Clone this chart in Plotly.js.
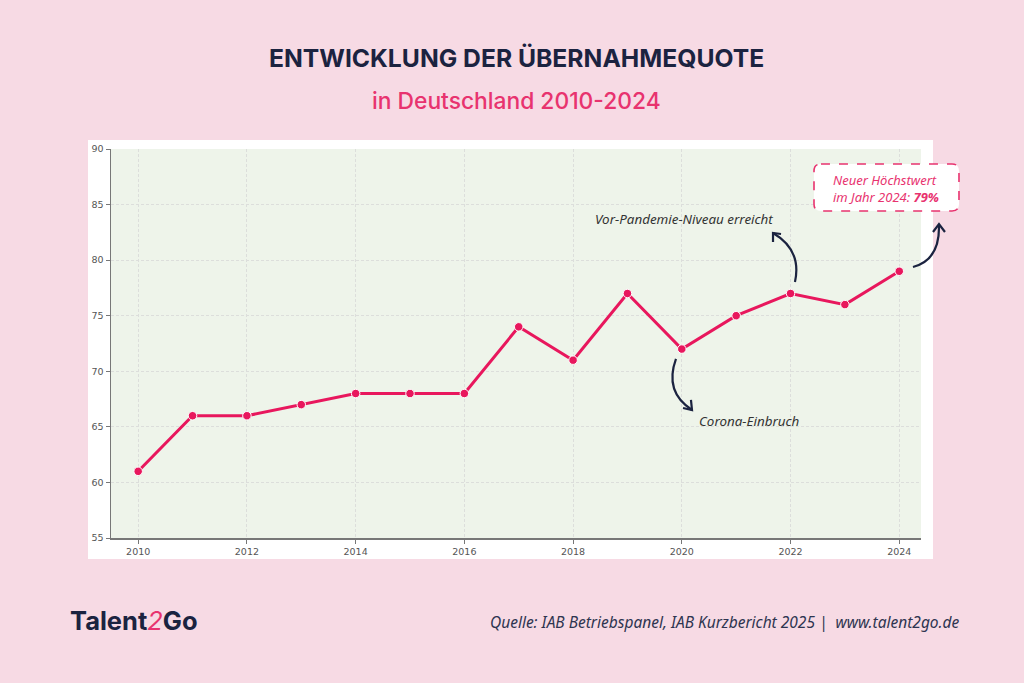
<!DOCTYPE html>
<html><head><meta charset="utf-8">
<script src="https://cdn.plot.ly/plotly-3.0.1.min.js"></script>
<style>html,body{margin:0;padding:0;background:#f7dae4;}#chart{width:1024px;height:683px;}</style>
</head><body><div id="chart"></div>
<script>
const years = [2010,2011,2012,2013,2014,2015,2016,2017,2018,2019,2020,2021,2022,2023,2024];
const quote = [61,66,66,67,68,68,68,74,71,77,72,75,77,76,79];
const xTicks = [2010,2012,2014,2016,2018,2020,2022,2024];
const yTicks = [55,60,65,70,75,80,85,90];

const L=111, R=921, T=149, B=538;
const px = x => (x-L)/(R-L);
const py = y => (B-y)/(B-T);
const navy = '#1b2340';
const pink = '#e8336f';
function P(x,y){ return px(x).toFixed(4)+','+py(y).toFixed(4); }

const shapes = [
  {type:'rect', xref:'paper', yref:'paper', x0:px(88), x1:px(933), y0:py(559), y1:py(140), fillcolor:'#ffffff', line:{width:0}, layer:'below'},
  {type:'rect', xref:'paper', yref:'paper', x0:0, x1:1, y0:0, y1:1, fillcolor:'#eef4ea', line:{width:0}, layer:'below'},
  // Corona arrow
  {type:'path', xref:'paper', yref:'paper', path:'M'+P(676,359)+' Q'+P(664,392)+' '+P(692,410), line:{color:navy,width:2.2}},
  {type:'path', xref:'paper', yref:'paper', path:'M'+P(683,408)+' L'+P(692,410)+' L'+P(691,400), line:{color:navy,width:2.2}},
  // Vor-Pandemie arrow
  {type:'path', xref:'paper', yref:'paper', path:'M'+P(795,282)+' Q'+P(802,250)+' '+P(773,233), line:{color:navy,width:2.2}},
  {type:'path', xref:'paper', yref:'paper', path:'M'+P(781,234)+' L'+P(773,233)+' L'+P(773,242), line:{color:navy,width:2.2}},
  // 2024 arrow
  {type:'path', xref:'paper', yref:'paper', path:'M'+P(913,267)+' Q'+P(940,260)+' '+P(939,225), line:{color:navy,width:2.2}},
  {type:'path', xref:'paper', yref:'paper', path:'M'+P(933,232)+' L'+P(939,224)+' L'+P(945,232), line:{color:navy,width:2.2}},
];
(function(){
  const x0=814,x1=959,y0=164,y1=211,r=7;
  const d='M'+P(x0+r,y0)+' L'+P(x1-r,y0)+' Q'+P(x1,y0)+' '+P(x1,y0+r)+' L'+P(x1,y1-r)+' Q'+P(x1,y1)+' '+P(x1-r,y1)+
    ' L'+P(x0+r,y1)+' Q'+P(x0,y1)+' '+P(x0,y1-r)+' L'+P(x0,y0+r)+' Q'+P(x0,y0)+' '+P(x0+r,y0)+' Z';
  shapes.push({type:'path', xref:'paper', yref:'paper', path:d, fillcolor:'#ffffff', line:{color:pink,width:1.6,dash:'dash'}});
})();

const annoFont = '"Noto Sans", "Open Sans", sans-serif';
const annotations = [
  {xref:'paper', yref:'paper', x:0.5, y:py(58), xanchor:'center', yanchor:'middle', showarrow:false,
   text:'<b>ENTWICKLUNG DER ÜBERNAHMEQUOTE</b>', font:{family:'Inter, Roboto, sans-serif', size:24.7, color:navy}},
  {xref:'paper', yref:'paper', x:0.5, y:py(101), xanchor:'center', yanchor:'middle', showarrow:false,
   text:'in Deutschland 2010-2024', font:{family:'Inter, Roboto, sans-serif', size:22.8, weight:500, color:pink}},
  {xref:'paper', yref:'paper', x:px(684), y:py(219), xanchor:'center', yanchor:'middle', showarrow:false,
   text:'<i>Vor-Pandemie-Niveau erreicht</i>', font:{family:annoFont, size:13.4, color:'#333333'}},
  {xref:'paper', yref:'paper', x:px(749), y:py(421), xanchor:'center', yanchor:'middle', showarrow:false,
   text:'<i>Corona-Einbruch</i>', font:{family:annoFont, size:13.4, color:'#333333'}},
  {xref:'paper', yref:'paper', x:px(831), y:py(188), xanchor:'left', yanchor:'middle', showarrow:false, align:'left',
   text:'<i>Neuer Höchstwert<br>im Jahr 2024: <b>79%</b></i>', font:{family:annoFont, size:13, color:pink}},
  {xref:'paper', yref:'paper', x:px(68), y:py(620), xanchor:'left', yanchor:'middle', showarrow:false,
   text:'<b>Talent</b><span style="color:'+pink+'"><i>2</i></span><b>Go</b>', font:{family:'Inter, Roboto, sans-serif', size:25.5, color:navy}},
  {xref:'paper', yref:'paper', x:px(962), y:py(622), xanchor:'right', yanchor:'middle', showarrow:false,
   text:'<i>Quelle: IAB Betriebspanel, IAB Kurzbericht 2025 |  www.talent2go.de</i>', font:{family:annoFont, size:15.5, color:'#2e3550'}},
];

const trace = {
  x: years, y: quote, type:'scatter', mode:'lines+markers',
  line:{color:'#e8175d', width:3},
  marker:{color:'#e8175d', size:8.5, line:{color:'#ffffff', width:1}},
  hoverinfo:'skip', cliponaxis:false
};

const axisCommon = {showgrid:true, gridcolor:'#dcdedb', griddash:'3px,2px', gridwidth:1, zeroline:false,
  showline:true, linecolor:'#777777', linewidth:1.5, ticks:'outside', ticklen:4, tickcolor:'#777777',
  tickfont:{family:'DejaVu Sans, sans-serif', size:9.5, color:'#555555'}};

const layout = {
  width:1024, height:683,
  paper_bgcolor:'#f7dae4', plot_bgcolor:'#eef4ea',
  margin:{l:L, r:1024-R, t:T, b:683-B, pad:0},
  showlegend:false,
  xaxis:Object.assign({range:[2009.5,2024.4], tickvals:xTicks, ticktext:xTicks.map(String)}, axisCommon),
  yaxis:Object.assign({range:[55,90], tickvals:yTicks, ticktext:yTicks.map(String)}, axisCommon),
  shapes: shapes, annotations: annotations
};
Plotly.newPlot('chart',[trace],layout,{staticPlot:true});
</script></body></html>
